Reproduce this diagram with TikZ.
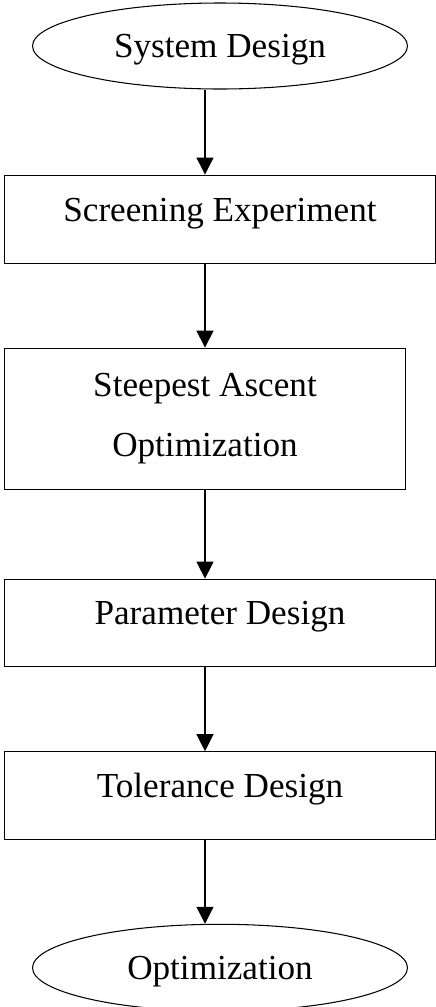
\documentclass[tikz,border=0pt]{standalone}
\usepackage{fontspec}
\setmainfont{Liberation Serif}
\usepackage{tikz}
\usetikzlibrary{arrows.meta,positioning,shapes.geometric}

\begin{document}
\begin{tikzpicture}[
    line width=0.6pt,
    stage/.style={draw, ellipse, minimum width=7.5cm, minimum height=1.72cm, inner sep=0pt,
      font=\fontsize{20}{34}\selectfont, text height=0.46cm, text depth=0cm},
    stepbox/.style={draw, rectangle, minimum width=8.62cm, minimum height=1.75cm, inner sep=0pt,
      font=\fontsize{20}{34}\selectfont, text height=0.5cm, text depth=0.42cm},
    arrow/.style={-{Triangle[length=0.34cm, width=0.34cm]}, line width=0.7pt}
  ]
  \useasboundingbox (0,0) rectangle (8.72,-20.14);

  % Start
  \node[stage] (sys) at (4.4,-0.92) {System Design};

  % Steps
  \node[stepbox, below=1.7cm of sys, minimum height=1.76cm] (scr) {Screening Experiment};
  \node[stepbox, below=1.68cm of scr, xshift=-0.3cm, minimum width=8.02cm, minimum height=2.82cm,
    align=center, text height=, text depth=] (sta) {Steepest Ascent\\Optimization};
  \node[stepbox, below=1.78cm of sta, xshift=0.3cm] (par) {Parameter Design};
  \node[stepbox, below=1.68cm of par] (tol) {Tolerance Design};

  % End
  \node[stage, below=1.68cm of tol, minimum height=1.74cm] (opt) {Optimization};

  % Arrows
  \draw[arrow] (sys.south -| sta) -- (scr.north -| sta);
  \draw[arrow] (scr.south -| sta) -- (sta.north);
  \draw[arrow] (sta.south) -- (par.north -| sta);
  \draw[arrow] (par.south -| sta) -- (tol.north -| sta);
  \draw[arrow] (tol.south -| sta) -- (opt.north -| sta);

\end{tikzpicture}
\end{document}
